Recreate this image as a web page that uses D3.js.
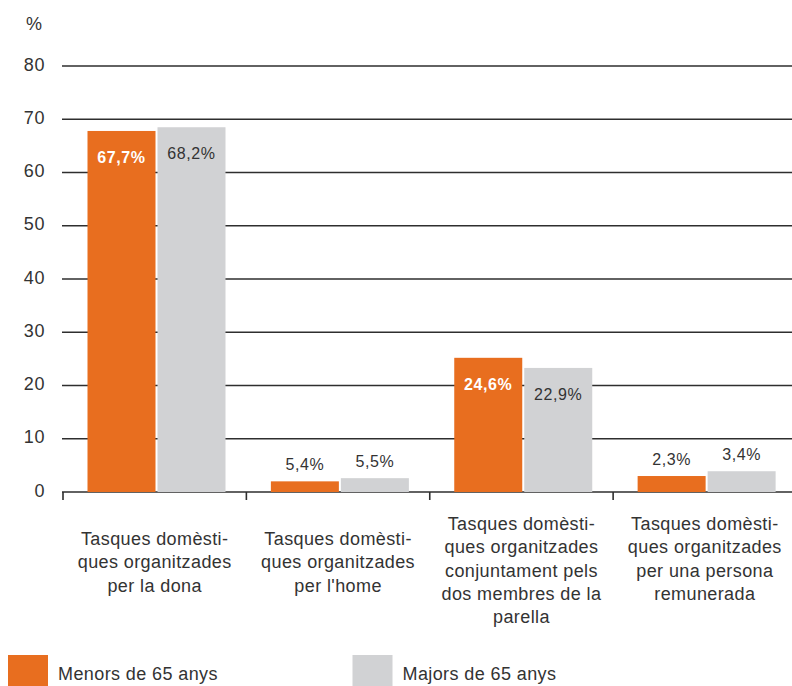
<!DOCTYPE html>
<html>
<head>
<meta charset="utf-8">
<script src="https://cdn.jsdelivr.net/npm/d3@7"></script>
<style>
  html, body { margin: 0; padding: 0; background: #fff; }
  svg { display: block; font-family: "Liberation Sans", Arial, sans-serif; }
</style>
</head>
<body>
<svg id="chart" width="792" height="686"></svg>
<script>
// ---- Data ----
const categories = ["dona", "home", "conjunt", "remunerada"];
const categoryLines = [
  ["Tasques domèsti-", "ques organitzades", "per la dona"],
  ["Tasques domèsti-", "ques organitzades", "per l'home"],
  ["Tasques domèsti-", "ques organitzades", "conjuntament pels", "dos membres de la", "parella"],
  ["Tasques domèsti-", "ques organitzades", "per una persona", "remunerada"]
];
const seriesNames = ["Menors de 65 anys", "Majors de 65 anys"];
// bar heights as drawn in the picture
const menors = [67.8, 2.0, 25.2, 3.0];
const majors = [68.5, 2.6, 23.3, 3.9];
// printed value labels
const menorsLabels = ["67,7%", "5,4%", "24,6%", "2,3%"];
const majorsLabels = ["68,2%", "5,5%", "22,9%", "3,4%"];
const yTicks = [0, 10, 20, 30, 40, 50, 60, 70, 80];

// ---- Styles ----
const ORANGE = "#E86E1F";
const GRAY = "#D1D2D4";
const TEXT = "#333333";
const GRID = "#2e2e2e";

const svg = d3.select("#chart");

const y = d3.scaleLinear().domain([0, 80]).range([492, 66]);
const x = d3.scaleBand().domain(categories).range([63, 796.5]).paddingInner(0).paddingOuter(0);
const x1 = d3.scaleBand().domain(seriesNames).range([0, 138]).paddingInner(2 / 70).paddingOuter(0);
const groupOffset = 24.5;
const color = d3.scaleOrdinal().domain(seriesNames).range([ORANGE, GRAY]);

// gridlines
svg.append("g").selectAll("line").data(yTicks).join("line")
  .attr("x1", 62).attr("x2", 792)
  .attr("y1", d => y(d)).attr("y2", d => y(d))
  .attr("stroke", GRID).attr("stroke-width", 1.6);

// y tick labels
svg.append("g").selectAll("text").data(yTicks).join("text")
  .attr("x", 45).attr("y", d => y(d) + 4.5)
  .attr("text-anchor", "end")
  .attr("font-size", 18).attr("letter-spacing", 0.6)
  .attr("fill", TEXT)
  .text(d => d);

svg.append("text").attr("x", 26).attr("y", 30)
  .attr("font-size", 18).attr("fill", TEXT).text("%");

// bottom ticks at category boundaries
svg.append("g").selectAll("line").data(categories).join("line")
  .attr("x1", d => x(d)).attr("x2", d => x(d))
  .attr("y1", y(0)).attr("y2", y(0) + 8)
  .attr("stroke", GRID).attr("stroke-width", 1.6);

// bars
const rows = categories.map((c, i) => ({
  cat: c,
  items: [
    { s: seriesNames[0], v: menors[i], label: menorsLabels[i] },
    { s: seriesNames[1], v: majors[i], label: majorsLabels[i] }
  ]
}));

const groups = svg.append("g").selectAll("g").data(rows).join("g")
  .attr("transform", d => `translate(${x(d.cat) + groupOffset},0)`);

groups.selectAll("rect").data(d => d.items).join("rect")
  .attr("x", d => x1(d.s))
  .attr("y", d => y(d.v))
  .attr("width", x1.bandwidth())
  .attr("height", d => y(0) - y(d.v))
  .attr("fill", d => color(d.s));

groups.selectAll("text").data(d => d.items).join("text")
  .attr("x", d => x1(d.s) + x1.bandwidth() / 2)
  .attr("y", d => d.v > 10 ? y(d.v) + 32 : y(d.v) - 11)
  .attr("text-anchor", "middle")
  .attr("font-size", 16).attr("letter-spacing", 0.6)
  .attr("font-weight", d => (d.v > 10 && d.s === seriesNames[0]) ? "bold" : "normal")
  .attr("fill", d => (d.v > 10 && d.s === seriesNames[0]) ? "#ffffff" : TEXT)
  .text(d => d.label);

// category labels
const catG = svg.append("g").selectAll("text").data(categories).join("text")
  .attr("text-anchor", "middle")
  .attr("font-size", 18).attr("letter-spacing", 0.4)
  .attr("fill", TEXT)
  .attr("transform", (d, i) => `translate(${x(d) + x.bandwidth() / 2},${categoryLines[i].length > 3 ? 530 : 545})`);
catG.selectAll("tspan").data((d, i) => categoryLines[i]).join("tspan")
  .attr("x", 0).attr("dy", (d, j) => j === 0 ? 0 : 23.3)
  .text(d => d);

// legend
const legendX = [8, 352.5];
const leg = svg.append("g").selectAll("g").data(seriesNames).join("g")
  .attr("transform", (d, i) => `translate(${legendX[i]},655)`);
leg.append("rect").attr("width", 40).attr("height", 40).attr("fill", d => color(d));
leg.append("text").attr("x", 50).attr("y", 24.5)
  .attr("font-size", 18).attr("letter-spacing", 0.4).attr("fill", TEXT)
  .text(d => d);
</script>
</body>
</html>
